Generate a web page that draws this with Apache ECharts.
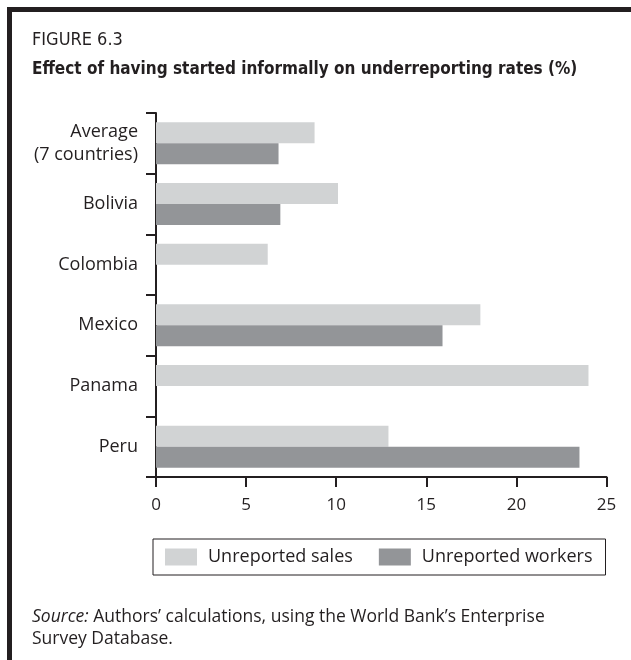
<!DOCTYPE html>
<html>
<head>
<meta charset="utf-8">
<script src="https://cdn.jsdelivr.net/npm/echarts@6/dist/echarts.min.js"></script>
<style>
html,body{margin:0;padding:0;background:#fff;}
#chart{width:631px;height:660px;}
</style>
</head>
<body>
<div id="chart"></div>
<script>
const categories = ['Average\n(7 countries)', 'Bolivia', 'Colombia', 'Mexico', 'Panama', 'Peru'];
const seriesNames = ['Unreported sales', 'Unreported workers'];
const salesValues = [8.8, 10.1, 6.2, 18.0, 24.0, 12.9];
const workersValues = [6.8, 6.9, null, 15.9, null, 23.5];
const xTicks = [0, 5, 10, 15, 20, 25];

const chart = echarts.init(document.getElementById('chart'), null, {renderer: 'canvas'});
const axisColor = '#231f20';
const textColor = '#231f20';
const sans = '"Open Sans", "Noto Sans", sans-serif';
const narrow = '"Liberation Sans Narrow", "DejaVu Sans Condensed", "Liberation Sans", sans-serif';

chart.setOption({
  backgroundColor: '#ffffff',
  animation: false,
  grid: {left: 156, right: 24.5, top: 113, bottom: 183, containLabel: false},
  xAxis: {
    type: 'value',
    min: xTicks[0],
    max: xTicks[xTicks.length - 1],
    interval: xTicks[1] - xTicks[0],
    axisLine: {show: true, lineStyle: {color: axisColor, width: 2}},
    axisTick: {show: true, length: 10, lineStyle: {color: axisColor, width: 2}},
    splitLine: {show: false},
    axisLabel: {color: textColor, fontFamily: sans, fontSize: 17, margin: 20}
  },
  yAxis: {
    type: 'category',
    data: categories,
    inverse: true,
    axisLine: {show: true, lineStyle: {color: axisColor, width: 2}},
    axisTick: {show: true, length: 10, lineStyle: {color: axisColor, width: 2}},
    axisLabel: {color: textColor, fontFamily: sans, fontSize: 18, margin: 18, lineHeight: 23, align: 'right'}
  },
  legend: {
    left: 153,
    top: 539,
    orient: 'horizontal',
    itemWidth: 32,
    itemHeight: 17,
    itemGap: 26,
    padding: [9, 13, 9, 12],
    borderColor: axisColor,
    borderWidth: 1,
    icon: 'rect',
    textStyle: {color: textColor, fontFamily: sans, fontSize: 18, padding: [0, 0, 0, 6]},
    data: seriesNames
  },
  series: [
    {
      name: seriesNames[0], type: 'bar', data: salesValues,
      barWidth: 21, barGap: '0%',
      itemStyle: {color: '#d1d3d4'}
    },
    {
      name: seriesNames[1], type: 'bar', data: workersValues,
      barWidth: 21, barGap: '0%',
      itemStyle: {color: '#939598'}
    }
  ],
  graphic: [
    {type: 'rect', shape: {x: 7, y: 7, width: 624, height: 5}, style: {fill: '#231f20'}},
    {type: 'rect', shape: {x: 7, y: 7, width: 5, height: 653}, style: {fill: '#231f20'}},
    {type: 'text', left: 32, top: 31, style: {text: 'FIGURE 6.3', fill: textColor, font: '18px ' + narrow}},
    {type: 'text', left: 32, top: 61, style: {text: 'Effect of having started informally on underreporting rates (%)', fill: textColor, font: 'bold 17px ' + narrow}},
    {type: 'text', left: 32, top: 606, style: {
      text: '{i|Source:} Authors\u2019 calculations, using the World Bank\u2019s Enterprise\nSurvey Database.',
      fill: textColor, font: '17.5px ' + sans, lineHeight: 22,
      rich: {i: {fontStyle: 'italic', fontFamily: sans, fontSize: 17.5, fill: textColor}}
    }}
  ]
});
</script>
</body>
</html>
